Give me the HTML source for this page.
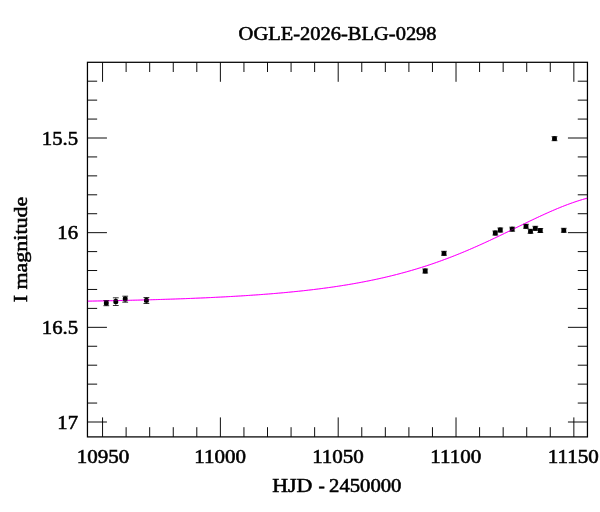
<!DOCTYPE html>
<html><head><meta charset="utf-8"><title>OGLE-2026-BLG-0298</title>
<style>html,body{margin:0;padding:0;background:#fff;}body{width:600px;height:512px;overflow:hidden;font-family:"Liberation Serif",serif;}svg{display:block;}text{font-family:"Liberation Serif",serif;fill:#000;}</style></head><body>
<svg width="600" height="512" viewBox="0 0 600 512">
<rect width="600" height="512" fill="#fff"/>
<path d="M87.45,301.15 L89.96,301.11 L92.48,301.07 L94.99,301.02 L97.50,300.98 L100.01,300.93 L102.53,300.88 L105.04,300.83 L107.55,300.79 L110.06,300.73 L112.58,300.68 L115.09,300.63 L117.60,300.58 L120.11,300.52 L122.63,300.47 L125.14,300.41 L127.65,300.35 L130.16,300.29 L132.68,300.23 L135.19,300.17 L137.70,300.11 L140.21,300.04 L142.73,299.98 L145.24,299.91 L147.75,299.84 L150.26,299.77 L152.78,299.70 L155.29,299.63 L157.80,299.56 L160.31,299.48 L162.83,299.40 L165.34,299.32 L167.85,299.24 L170.36,299.16 L172.88,299.08 L175.39,298.99 L177.90,298.90 L180.41,298.81 L182.93,298.72 L185.44,298.63 L187.95,298.53 L190.47,298.43 L192.98,298.33 L195.49,298.23 L198.00,298.12 L200.52,298.02 L203.03,297.91 L205.54,297.80 L208.05,297.68 L210.57,297.57 L213.08,297.45 L215.59,297.32 L218.10,297.20 L220.62,297.07 L223.13,296.94 L225.64,296.81 L228.15,296.67 L230.67,296.53 L233.18,296.39 L235.69,296.24 L238.20,296.09 L240.72,295.94 L243.23,295.78 L245.74,295.62 L248.25,295.46 L250.77,295.29 L253.28,295.12 L255.79,294.95 L258.30,294.77 L260.82,294.58 L263.33,294.39 L265.84,294.20 L268.35,294.00 L270.87,293.80 L273.38,293.60 L275.89,293.39 L278.40,293.17 L280.92,292.95 L283.43,292.72 L285.94,292.49 L288.46,292.25 L290.97,292.01 L293.48,291.76 L295.99,291.51 L298.51,291.25 L301.02,290.98 L303.53,290.71 L306.04,290.43 L308.56,290.14 L311.07,289.85 L313.58,289.55 L316.09,289.24 L318.61,288.93 L321.12,288.61 L323.63,288.28 L326.14,287.94 L328.66,287.59 L331.17,287.24 L333.68,286.88 L336.19,286.51 L338.71,286.13 L341.22,285.74 L343.73,285.34 L346.24,284.94 L348.76,284.52 L351.27,284.10 L353.78,283.66 L356.29,283.21 L358.81,282.76 L361.32,282.29 L363.83,281.81 L366.34,281.32 L368.86,280.82 L371.37,280.31 L373.88,279.79 L376.39,279.25 L378.91,278.71 L381.42,278.15 L383.93,277.58 L386.44,276.99 L388.96,276.39 L391.47,275.78 L393.98,275.16 L396.50,274.52 L399.01,273.87 L401.52,273.20 L404.03,272.52 L406.55,271.83 L409.06,271.12 L411.57,270.40 L414.08,269.66 L416.60,268.91 L419.11,268.14 L421.62,267.36 L424.13,266.56 L426.65,265.75 L429.16,264.92 L431.67,264.08 L434.18,263.22 L436.70,262.34 L439.21,261.45 L441.72,260.54 L444.23,259.62 L446.75,258.68 L449.26,257.73 L451.77,256.76 L454.28,255.78 L456.80,254.78 L459.31,253.76 L461.82,252.74 L464.33,251.69 L466.85,250.64 L469.36,249.57 L471.87,248.48 L474.38,247.38 L476.90,246.27 L479.41,245.15 L481.92,244.02 L484.43,242.87 L486.95,241.71 L489.46,240.55 L491.97,239.37 L494.49,238.19 L497.00,236.99 L499.51,235.79 L502.02,234.59 L504.54,233.37 L507.05,232.16 L509.56,230.94 L512.07,229.71 L514.59,228.49 L517.10,227.26 L519.61,226.04 L522.12,224.82 L524.64,223.60 L527.15,222.38 L529.66,221.17 L532.17,219.97 L534.69,218.77 L537.20,217.59 L539.71,216.41 L542.22,215.25 L544.74,214.10 L547.25,212.97 L549.76,211.85 L552.27,210.75 L554.79,209.68 L557.30,208.62 L559.81,207.58 L562.32,206.57 L564.84,205.59 L567.35,204.63 L569.86,203.70 L572.37,202.81 L574.89,201.94 L577.40,201.10 L579.91,200.31 L582.42,199.54 L584.94,198.82 L587.45,198.13" fill="none" stroke="#ff00ff" stroke-width="1.0"/>
<path d="M102.55,436.9 v-19.5 M102.55,62.3 v19.5 M126.11,436.9 v-9.7 M126.11,62.3 v9.7 M149.68,436.9 v-9.7 M149.68,62.3 v9.7 M173.25,436.9 v-9.7 M173.25,62.3 v9.7 M196.81,436.9 v-9.7 M196.81,62.3 v9.7 M220.38,436.9 v-19.5 M220.38,62.3 v19.5 M243.94,436.9 v-9.7 M243.94,62.3 v9.7 M267.50,436.9 v-9.7 M267.50,62.3 v9.7 M291.07,436.9 v-9.7 M291.07,62.3 v9.7 M314.63,436.9 v-9.7 M314.63,62.3 v9.7 M338.20,436.9 v-19.5 M338.20,62.3 v19.5 M361.77,436.9 v-9.7 M361.77,62.3 v9.7 M385.33,436.9 v-9.7 M385.33,62.3 v9.7 M408.90,436.9 v-9.7 M408.90,62.3 v9.7 M432.46,436.9 v-9.7 M432.46,62.3 v9.7 M456.03,436.9 v-19.5 M456.03,62.3 v19.5 M479.59,436.9 v-9.7 M479.59,62.3 v9.7 M503.16,436.9 v-9.7 M503.16,62.3 v9.7 M526.72,436.9 v-9.7 M526.72,62.3 v9.7 M550.28,436.9 v-9.7 M550.28,62.3 v9.7 M573.85,436.9 v-19.5 M573.85,62.3 v19.5 M87.45,81.20 h9.7 M587.45,81.20 h-9.7 M87.45,100.13 h9.7 M587.45,100.13 h-9.7 M87.45,119.07 h9.7 M587.45,119.07 h-9.7 M87.45,138.00 h19.5 M587.45,138.00 h-19.5 M87.45,156.93 h9.7 M587.45,156.93 h-9.7 M87.45,175.87 h9.7 M587.45,175.87 h-9.7 M87.45,194.80 h9.7 M587.45,194.80 h-9.7 M87.45,213.73 h9.7 M587.45,213.73 h-9.7 M87.45,232.67 h19.5 M587.45,232.67 h-19.5 M87.45,251.60 h9.7 M587.45,251.60 h-9.7 M87.45,270.53 h9.7 M587.45,270.53 h-9.7 M87.45,289.46 h9.7 M587.45,289.46 h-9.7 M87.45,308.40 h9.7 M587.45,308.40 h-9.7 M87.45,327.33 h19.5 M587.45,327.33 h-19.5 M87.45,346.26 h9.7 M587.45,346.26 h-9.7 M87.45,365.20 h9.7 M587.45,365.20 h-9.7 M87.45,384.13 h9.7 M587.45,384.13 h-9.7 M87.45,403.06 h9.7 M587.45,403.06 h-9.7 M87.45,422.00 h19.5 M587.45,422.00 h-19.5" fill="none" stroke="#000" stroke-width="0.95"/>
<rect x="87.45" y="62.3" width="500.00000000000006" height="374.59999999999997" fill="none" stroke="#000" stroke-width="1.25"/>
<rect x="103.90" y="300.60" width="4.8" height="4.8" rx="1.5" fill="#000"/>
<path d="M106.30,300.5 V305.7 M103.40,300.5 h5.8 M103.40,305.7 h5.8" stroke="#000" stroke-width="0.8" fill="none"/>
<rect x="113.40" y="299.10" width="4.8" height="4.8" rx="1.5" fill="#000"/>
<path d="M115.80,297.8 V305.5 M112.90,297.8 h5.8 M112.90,305.5 h5.8" stroke="#000" stroke-width="0.8" fill="none"/>
<rect x="122.80" y="296.60" width="4.8" height="4.8" rx="1.5" fill="#000"/>
<path d="M125.20,296.2 V302.2 M122.30,296.2 h5.8 M122.30,302.2 h5.8" stroke="#000" stroke-width="0.8" fill="none"/>
<rect x="144.00" y="297.90" width="4.8" height="4.8" rx="1.5" fill="#000"/>
<path d="M146.40,297.5 V303.5 M143.50,297.5 h5.8 M143.50,303.5 h5.8" stroke="#000" stroke-width="0.8" fill="none"/>
<rect x="422.80" y="268.60" width="4.8" height="4.8" rx="1.5" fill="#000"/>
<path d="M425.20,269.0 V273.0 M422.30,269.0 h5.8 M422.30,273.0 h5.8" stroke="#000" stroke-width="0.8" fill="none"/>
<rect x="441.60" y="250.90" width="4.8" height="4.8" rx="1.5" fill="#000"/>
<path d="M444.00,251.3 V255.3 M441.10,251.3 h5.8 M441.10,255.3 h5.8" stroke="#000" stroke-width="0.8" fill="none"/>
<rect x="492.90" y="230.60" width="4.8" height="4.8" rx="1.5" fill="#000"/>
<path d="M495.30,231.0 V235.0 M492.40,231.0 h5.8 M492.40,235.0 h5.8" stroke="#000" stroke-width="0.8" fill="none"/>
<rect x="497.90" y="227.60" width="4.8" height="4.8" rx="1.5" fill="#000"/>
<path d="M500.30,228.0 V232.0 M497.40,228.0 h5.8 M497.40,232.0 h5.8" stroke="#000" stroke-width="0.8" fill="none"/>
<rect x="509.80" y="226.80" width="4.8" height="4.8" rx="1.5" fill="#000"/>
<path d="M512.20,227.2 V231.2 M509.30,227.2 h5.8 M509.30,231.2 h5.8" stroke="#000" stroke-width="0.8" fill="none"/>
<rect x="523.60" y="223.90" width="4.8" height="4.8" rx="1.5" fill="#000"/>
<path d="M526.00,224.3 V228.3 M523.10,224.3 h5.8 M523.10,228.3 h5.8" stroke="#000" stroke-width="0.8" fill="none"/>
<rect x="528.10" y="228.90" width="4.8" height="4.8" rx="1.5" fill="#000"/>
<path d="M530.50,229.3 V233.3 M527.60,229.3 h5.8 M527.60,233.3 h5.8" stroke="#000" stroke-width="0.8" fill="none"/>
<rect x="532.90" y="225.90" width="4.8" height="4.8" rx="1.5" fill="#000"/>
<path d="M535.30,226.3 V230.3 M532.40,226.3 h5.8 M532.40,230.3 h5.8" stroke="#000" stroke-width="0.8" fill="none"/>
<rect x="537.90" y="228.10" width="4.8" height="4.8" rx="1.5" fill="#000"/>
<path d="M540.30,228.5 V232.5 M537.40,228.5 h5.8 M537.40,232.5 h5.8" stroke="#000" stroke-width="0.8" fill="none"/>
<rect x="561.40" y="227.90" width="4.8" height="4.8" rx="1.5" fill="#000"/>
<path d="M563.80,228.3 V232.3 M560.90,228.3 h5.8 M560.90,232.3 h5.8" stroke="#000" stroke-width="0.8" fill="none"/>
<rect x="552.10" y="136.30" width="4.8" height="4.8" rx="1.5" fill="#000"/>
<path d="M554.50,136.7 V140.7 M551.60,136.7 h5.8 M551.60,140.7 h5.8" stroke="#000" stroke-width="0.8" fill="none"/>
<path d="M87.45,301.15 L89.96,301.11 L92.48,301.07 L94.99,301.02 L97.50,300.98 L100.01,300.93 L102.53,300.88 L105.04,300.83 L107.55,300.79 L110.06,300.73 L112.58,300.68 L115.09,300.63 L117.60,300.58 L120.11,300.52 L122.63,300.47 L125.14,300.41 L127.65,300.35 L130.16,300.29 L132.68,300.23 L135.19,300.17 L137.70,300.11 L140.21,300.04 L142.73,299.98 L145.24,299.91 L147.75,299.84 L150.26,299.77 L152.78,299.70 L155.29,299.63 L157.80,299.56 L160.31,299.48 L162.83,299.40 L165.34,299.32 L167.85,299.24 L170.36,299.16 L172.88,299.08 L175.39,298.99 L177.90,298.90 L180.41,298.81 L182.93,298.72 L185.44,298.63 L187.95,298.53 L190.47,298.43 L192.98,298.33 L195.49,298.23 L198.00,298.12 L200.52,298.02 L203.03,297.91 L205.54,297.80 L208.05,297.68 L210.57,297.57 L213.08,297.45 L215.59,297.32 L218.10,297.20 L220.62,297.07 L223.13,296.94 L225.64,296.81 L228.15,296.67 L230.67,296.53 L233.18,296.39 L235.69,296.24 L238.20,296.09 L240.72,295.94 L243.23,295.78 L245.74,295.62 L248.25,295.46 L250.77,295.29 L253.28,295.12 L255.79,294.95 L258.30,294.77 L260.82,294.58 L263.33,294.39 L265.84,294.20 L268.35,294.00 L270.87,293.80 L273.38,293.60 L275.89,293.39 L278.40,293.17 L280.92,292.95 L283.43,292.72 L285.94,292.49 L288.46,292.25 L290.97,292.01 L293.48,291.76 L295.99,291.51 L298.51,291.25 L301.02,290.98 L303.53,290.71 L306.04,290.43 L308.56,290.14 L311.07,289.85 L313.58,289.55 L316.09,289.24 L318.61,288.93 L321.12,288.61 L323.63,288.28 L326.14,287.94 L328.66,287.59 L331.17,287.24 L333.68,286.88 L336.19,286.51 L338.71,286.13 L341.22,285.74 L343.73,285.34 L346.24,284.94 L348.76,284.52 L351.27,284.10 L353.78,283.66 L356.29,283.21 L358.81,282.76 L361.32,282.29 L363.83,281.81 L366.34,281.32 L368.86,280.82 L371.37,280.31 L373.88,279.79 L376.39,279.25 L378.91,278.71 L381.42,278.15 L383.93,277.58 L386.44,276.99 L388.96,276.39 L391.47,275.78 L393.98,275.16 L396.50,274.52 L399.01,273.87 L401.52,273.20 L404.03,272.52 L406.55,271.83 L409.06,271.12 L411.57,270.40 L414.08,269.66 L416.60,268.91 L419.11,268.14 L421.62,267.36 L424.13,266.56 L426.65,265.75 L429.16,264.92 L431.67,264.08 L434.18,263.22 L436.70,262.34 L439.21,261.45 L441.72,260.54 L444.23,259.62 L446.75,258.68 L449.26,257.73 L451.77,256.76 L454.28,255.78 L456.80,254.78 L459.31,253.76 L461.82,252.74 L464.33,251.69 L466.85,250.64 L469.36,249.57 L471.87,248.48 L474.38,247.38 L476.90,246.27 L479.41,245.15 L481.92,244.02 L484.43,242.87 L486.95,241.71 L489.46,240.55 L491.97,239.37 L494.49,238.19 L497.00,236.99 L499.51,235.79 L502.02,234.59 L504.54,233.37 L507.05,232.16 L509.56,230.94 L512.07,229.71 L514.59,228.49 L517.10,227.26 L519.61,226.04 L522.12,224.82 L524.64,223.60 L527.15,222.38 L529.66,221.17 L532.17,219.97 L534.69,218.77 L537.20,217.59 L539.71,216.41 L542.22,215.25 L544.74,214.10 L547.25,212.97 L549.76,211.85 L552.27,210.75 L554.79,209.68 L557.30,208.62 L559.81,207.58 L562.32,206.57 L564.84,205.59 L567.35,204.63 L569.86,203.70 L572.37,202.81 L574.89,201.94 L577.40,201.10 L579.91,200.31 L582.42,199.54 L584.94,198.82 L587.45,198.13" fill="none" stroke="#ff00ff" stroke-width="0.6" stroke-opacity="0.5"/>
<g style="filter:grayscale(1)">
<text transform="translate(337.6,40.2) scale(1.0904,1)" font-size="18.8" text-anchor="middle" stroke="#000" stroke-width="0.55">OGLE-2026-BLG-0298</text>
<text transform="translate(78,144.6) scale(1.1011,1)" font-size="18.8" text-anchor="end" stroke="#000" stroke-width="0.55">15.5</text>
<text transform="translate(78,239.3) scale(1.1011,1)" font-size="18.8" text-anchor="end" stroke="#000" stroke-width="0.55">16</text>
<text transform="translate(78,333.9) scale(1.1011,1)" font-size="18.8" text-anchor="end" stroke="#000" stroke-width="0.55">16.5</text>
<text transform="translate(78,428.6) scale(1.1011,1)" font-size="18.8" text-anchor="end" stroke="#000" stroke-width="0.55">17</text>
<text transform="translate(103.1,462.5) scale(1.1170,1)" font-size="18.8" text-anchor="middle" stroke="#000" stroke-width="0.55">10950</text>
<text transform="translate(220.2,462.5) scale(1.1170,1)" font-size="18.8" text-anchor="middle" stroke="#000" stroke-width="0.55">11000</text>
<text transform="translate(338.0,462.5) scale(1.1170,1)" font-size="18.8" text-anchor="middle" stroke="#000" stroke-width="0.55">11050</text>
<text transform="translate(455.8,462.5) scale(1.1170,1)" font-size="18.8" text-anchor="middle" stroke="#000" stroke-width="0.55">11100</text>
<text transform="translate(573.2,462.5) scale(1.1170,1)" font-size="18.8" text-anchor="middle" stroke="#000" stroke-width="0.55">11150</text>
<text transform="translate(272.3,491.6) scale(1.1649,1)" font-size="18.8" text-anchor="start" stroke="#000" stroke-width="0.55">HJD</text>
<text transform="translate(321.6,491.6) scale(1.0106,1)" font-size="18.8" text-anchor="middle" stroke="#000" stroke-width="0.55">-</text>
<text transform="translate(401.4,491.6) scale(1.0989,1)" font-size="18.8" text-anchor="end" stroke="#000" stroke-width="0.55">2450000</text>
<text transform="translate(26.8,249.5) rotate(-90) scale(1.1702,1)" font-size="18.8" text-anchor="middle" stroke="#000" stroke-width="0.55">I magnitude</text>
</g>
</svg></body></html>
